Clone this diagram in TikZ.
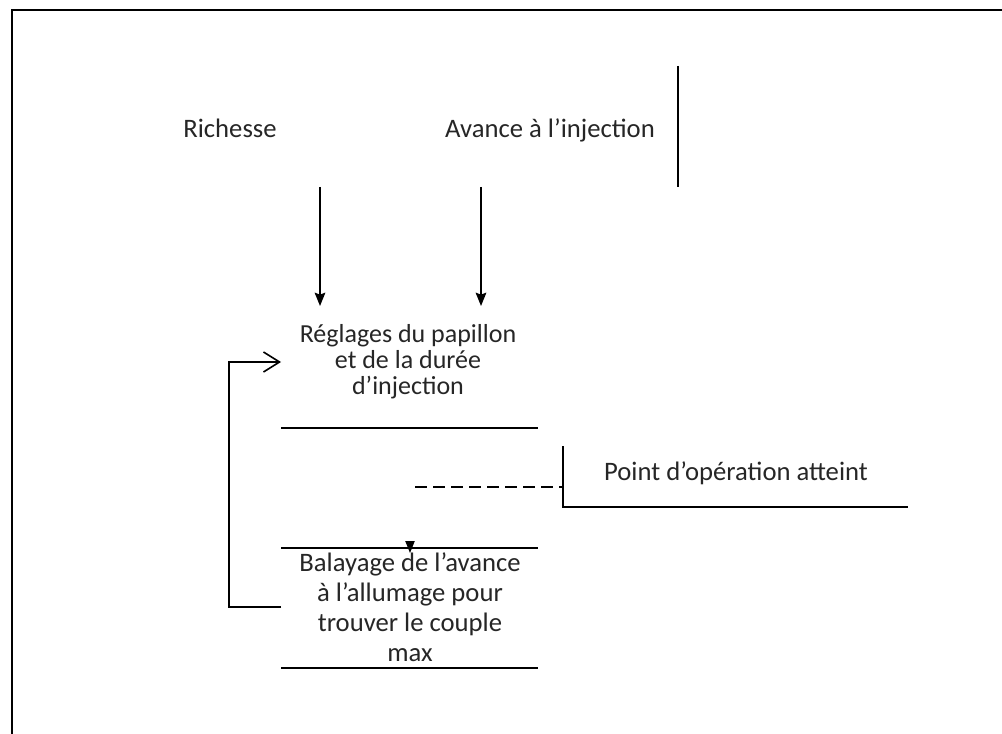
\documentclass[tikz,border=0pt]{standalone}
\usepackage{fontspec}
\setmainfont{Carlito}
\usetikzlibrary{arrows.meta}
\tikzset{
  lbl/.style={inner sep=0pt, align=center, text=black!85},
  rule/.style={line width=1.2pt},
  frame/.style={line width=1.6pt},
  downarrow/.style={line width=1.2pt, -{Stealth[length=10pt,width=8pt,inset=1.5pt]}},
  backarrow/.style={line width=1.2pt, -{Straight Barb[length=12pt,width=15pt]}},
}
\begin{document}
\begin{tikzpicture}[x=0.75pt,y=-0.75pt]
\useasboundingbox (0,0) rectangle (1002,734);
% frame
\draw[frame] (12,734) -- (12,10) -- (1002,10);
% top labels
\node[lbl, anchor=base, font=\fontsize{20}{24}\selectfont] (rich) at (230,138) {Richesse};
\node[lbl, anchor=base, font=\fontsize{20}{24}\selectfont] (avance) at (550,138) {Avance à l’injection};
\coordinate (vt) at (678,66);
\coordinate (vb) at (678,187);
\draw[rule] (vt) -- (vb);
% down arrows
\coordinate (a1s) at (320,187);
\coordinate (a1e) at (320,306);
\coordinate (a2s) at (481,187);
\coordinate (a2e) at (481,306);
\draw[downarrow] (a1s) -- (a1e);
\draw[downarrow] (a2s) -- (a2e);
% first block
\node[lbl, font=\fontsize{19.5}{19.5}\selectfont] (regl) at (408,362) {Réglages du papillon\\et de la durée\\d’injection};
\coordinate (r1l) at (281,428);
\coordinate (r1r) at (538,428);
\draw[rule] (r1l) -- (r1r);
% operation point
\coordinate (ds) at (415,487);
\coordinate (de) at (563,487);
\draw[rule, dash pattern=on 9pt off 4.5pt] (ds) -- (de);
\coordinate (pt) at (563,446);
\coordinate (pb) at (563,507);
\coordinate (pr) at (908,507);
\draw[rule] (pt) -- (pb) -- (pr);
\node[lbl, anchor=base, font=\fontsize{20}{24}\selectfont] (point) at (736,480) {Point d’opération atteint};
% small triangle
\coordinate (ts) at (410,541);
\coordinate (te) at (410,553);
\draw[line width=0.8pt, -{Triangle[length=9pt,width=7pt]}] (ts) -- (te);
% second block
\coordinate (r2l) at (281,548);
\coordinate (r2r) at (538,548);
\draw[rule] (r2l) -- (r2r);
\node[lbl, font=\fontsize{20}{22.5}\selectfont] (bal) at (410,607) {Balayage de l’avance\\à l’allumage pour\\trouver le couple\\max};
\coordinate (r3l) at (281,668);
\coordinate (r3r) at (538,668);
\draw[rule] (r3l) -- (r3r);
% feedback
\coordinate (fs) at (281,607);
\coordinate (fe) at (281,362);
\draw[backarrow] (fs) -- (229,607) -- (229,362) -- (fe);
\end{tikzpicture}
\end{document}
